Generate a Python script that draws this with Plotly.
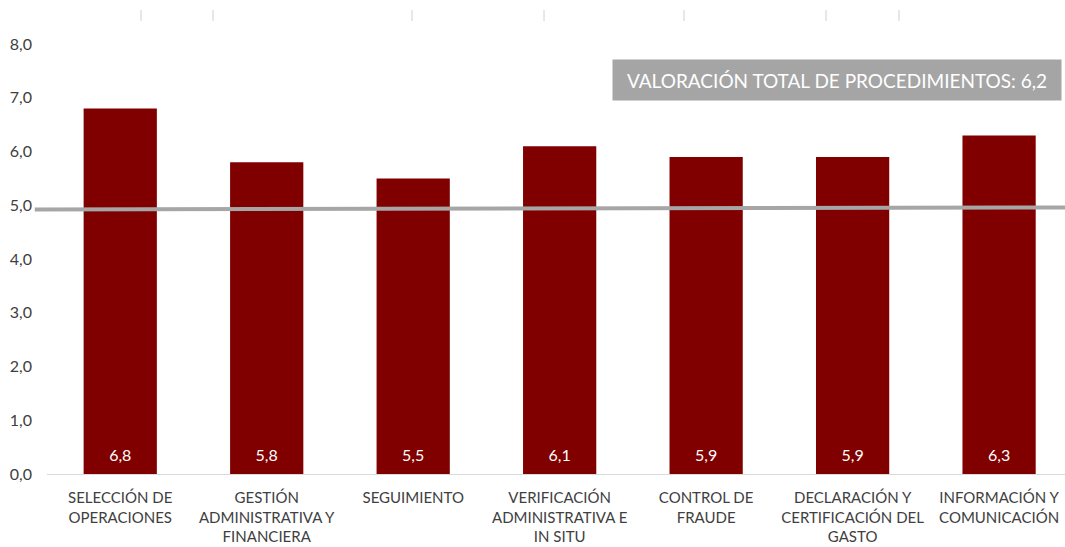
import plotly.graph_objects as go

# datos del gráfico
categorias = [
    "SELECCIÓN DE<br>OPERACIONES",
    "GESTIÓN<br>ADMINISTRATIVA Y<br>FINANCIERA",
    "SEGUIMIENTO",
    "VERIFICACIÓN<br>ADMINISTRATIVA E<br>IN SITU",
    "CONTROL DE<br>FRAUDE",
    "DECLARACIÓN Y<br>CERTIFICACIÓN DEL<br>GASTO",
    "INFORMACIÓN Y<br>COMUNICACIÓN",
]
valores = [6.8, 5.8, 5.5, 6.1, 5.9, 5.9, 6.3]
linea_ref = [4.92, 4.96]  # línea gris (izquierda, derecha)
valoracion_total = 6.2
y_ticks = [0, 1, 2, 3, 4, 5, 6, 7, 8]

FONT = "Lato"
GRIS_TXT = "#404040"
x_pos = list(range(len(categorias)))

fig = go.Figure()
fig.add_trace(go.Bar(
    x=x_pos,
    y=valores,
    width=0.5,
    marker=dict(color="#800000", line=dict(width=0)),
    hoverinfo="skip",
))
# etiquetas de valor abajo dentro de la barra
fig.add_trace(go.Scatter(
    x=x_pos,
    y=[0.32] * len(valores),
    mode="text",
    text=[f"{v:.1f}".replace(".", ",") for v in valores],
    textposition="middle center",
    textfont=dict(family=FONT, size=16, color="white"),
    hoverinfo="skip",
))

# línea gris horizontal
fig.add_shape(type="line", xref="paper", yref="y",
              x0=-0.012, x1=1, y0=linea_ref[0], y1=linea_ref[1],
              line=dict(color="#A6A6A6", width=4), layer="above")

# marcas sueltas arriba (restos de la tabla)
for px_ in [141, 213, 412, 544, 684, 826, 899]:
    xp = (px_ - 47) / 1018
    fig.add_shape(type="line", xref="paper", yref="paper",
                  x0=xp, x1=xp, y0=1 + 23 / 430, y1=1 + 34 / 430,
                  line=dict(color="#D0D0D0", width=1))

fig.add_annotation(
    xref="paper", yref="paper", x=(837 - 47) / 1018, y=1 - 36 / 430,
    xanchor="center", yanchor="middle",
    text="VALORACIÓN TOTAL DE PROCEDIMIENTOS: " + f"{valoracion_total:.1f}".replace(".", ","),
    showarrow=False, bgcolor="#A5A5A5", width=446, height=38,
    font=dict(family=FONT, size=19, color="white"),
)

fig.update_layout(
    width=1065, height=547,
    margin=dict(l=47, r=0, t=44, b=73),
    plot_bgcolor="white", paper_bgcolor="white",
    separators=",.",
    showlegend=False,
    bargap=0.5,
    xaxis=dict(
        range=[-0.5, 6.45],
        tickvals=x_pos,
        ticktext=categorias,
        tickangle=0,
        showgrid=False, zeroline=False,
        showline=True, linecolor="#D9D9D9", linewidth=1,
        ticks="", ticklabelstandoff=10,
        tickfont=dict(family=FONT, size=15, color=GRIS_TXT),
    ),
    yaxis=dict(
        range=[0, 8],
        tickvals=y_ticks,
        tickformat=".1f",
        showgrid=False, zeroline=False, showline=False,
        ticks="", ticklabelstandoff=14,
        tickfont=dict(family=FONT, size=16, color=GRIS_TXT),
    ),
)

# quitar el margen por defecto del body
fig.write_html("out.html", config={"displayModeBar": False},
               post_script="document.body.style.margin='0';")
